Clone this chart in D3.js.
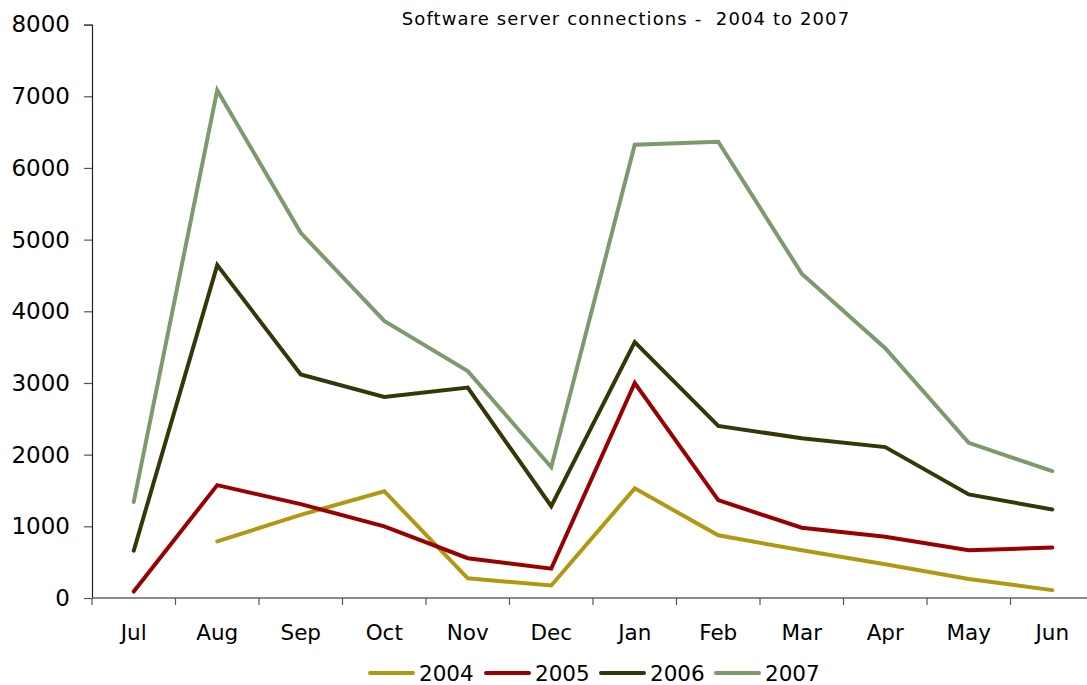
<!DOCTYPE html>
<html>
<head>
<meta charset="utf-8">
<script src="https://cdn.jsdelivr.net/npm/d3@7"></script>
<style>
  html, body { margin: 0; padding: 0; background: #fff; }
  svg { display: block; font-family: "DejaVu Sans", Verdana, sans-serif; }
</style>
</head>
<body>
<svg id="chart" width="1087" height="685"></svg>
<script>
// Monthly server connections, fiscal year July–June
const months = ["Jul", "Aug", "Sep", "Oct", "Nov", "Dec", "Jan", "Feb", "Mar", "Apr", "May", "Jun"];
const seriesNames = ["2004", "2005", "2006", "2007"];
const values2004 = [null, 790, 1160, 1490, 275, 175, 1530, 875, 665, 470, 265, 110];
const values2005 = [90, 1575, 1310, 1000, 555, 410, 3000, 1365, 980, 855, 665, 705];
const values2006 = [660, 4645, 3120, 2805, 2935, 1280, 3570, 2400, 2230, 2105, 1445, 1235];
const values2007 = [1340, 7085, 5095, 3865, 3165, 1825, 6325, 6365, 4525, 3485, 2165, 1770];
const yTicks = [0, 1000, 2000, 3000, 4000, 5000, 6000, 7000, 8000];
const colors = ["#b09810", "#990000", "#363609", "#7d9a6e"];

const series = [values2004, values2005, values2006, values2007].map((v, i) => ({
  name: seriesNames[i], values: v, color: colors[i]
}));

const svg = d3.select("#chart");
const plotLeft = 92, plotRight = 1094, plotTop = 24.6, plotBottom = 598;

const x = d3.scaleBand().domain(months).range([plotLeft, plotRight]).paddingInner(0).paddingOuter(0);
const y = d3.scaleLinear().domain([0, 8000]).range([plotBottom, plotTop]);

// Title
const title = svg.append("text")
  .attr("x", 626).attr("y", 25)
  .attr("text-anchor", "middle")
  .attr("font-size", 18)
  .attr("letter-spacing", 1.1)
  .attr("fill", "#000")
  .style("white-space", "pre")
  .text("Software server connections -  2004 to 2007");

// Y axis
const yAxis = svg.append("g")
  .attr("transform", `translate(${plotLeft},0)`)
  .call(d3.axisLeft(y).tickValues(yTicks).tickSize(8).tickPadding(14).tickFormat(d3.format("d")));
yAxis.select(".domain").attr("stroke", "#222").attr("stroke-width", 1.2);
yAxis.selectAll(".tick line").attr("stroke", "#555").attr("stroke-width", 1.2);
yAxis.selectAll(".tick text").attr("font-size", 23).attr("fill", "#000")
  .attr("font-family", "DejaVu Sans, Verdana, sans-serif");

// X axis: ticks at band boundaries, labels centred in each band
const xAxis = svg.append("g").attr("transform", `translate(0,${plotBottom})`);
xAxis.append("line")
  .attr("x1", plotLeft).attr("x2", plotRight)
  .attr("stroke", "#666").attr("stroke-width", 1.5);
const boundaries = months.map(m => x(m));
xAxis.selectAll("line.tk").data(boundaries).join("line")
  .attr("class", "tk")
  .attr("x1", d => d).attr("x2", d => d)
  .attr("y1", 0).attr("y2", 7)
  .attr("stroke", "#555").attr("stroke-width", 1.2);
xAxis.selectAll("text").data(months).join("text")
  .attr("x", d => x(d) + x.bandwidth() / 2)
  .attr("y", 42)
  .attr("text-anchor", "middle")
  .attr("font-size", 21.5)
  .attr("fill", "#000")
  .text(d => d);

// Lines
const line = d3.line()
  .defined(d => d.v != null)
  .x(d => x(d.m) + x.bandwidth() / 2)
  .y(d => y(d.v));

svg.append("g").selectAll("path").data(series).join("path")
  .attr("d", s => line(s.values.map((v, i) => ({ m: months[i], v }))))
  .attr("fill", "none")
  .attr("stroke", s => s.color)
  .attr("stroke-width", 4)
  .attr("stroke-linejoin", "miter")
  .attr("stroke-linecap", "round");

// Legend
const legendX = [370, 486, 601, 716];
const legend = svg.append("g").selectAll("g").data(series).join("g")
  .attr("transform", (d, i) => `translate(${legendX[i]},673)`);
legend.append("line")
  .attr("x1", 0).attr("x2", 43)
  .attr("stroke", d => d.color).attr("stroke-width", 4).attr("stroke-linecap", "round");
legend.append("text")
  .attr("x", 49).attr("y", 8)
  .attr("font-size", 21.5).attr("fill", "#000")
  .text(d => d.name);
</script>
</body>
</html>
